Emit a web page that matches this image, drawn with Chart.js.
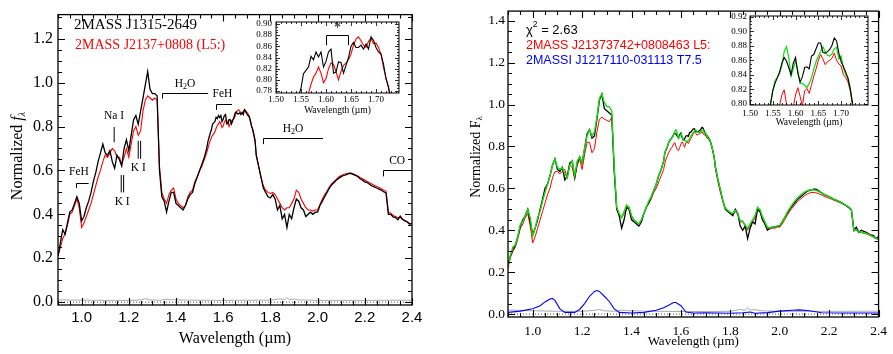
<!DOCTYPE html>
<html>
<head>
<meta charset="utf-8">
<script src="https://cdn.jsdelivr.net/npm/chart.js@4.4.1/dist/chart.umd.min.js"></script>
<style>
body { margin: 0; background: #fff; }
#wrap { position: relative; width: 893px; height: 354px; overflow: hidden; }
canvas { position: absolute; }
</style>
</head>
<body>
<div id="wrap">
<canvas id="leftMain" width="450" height="354" style="left:0;top:0"></canvas>
<canvas id="rightMain" width="443" height="354" style="left:450px;top:0"></canvas>
<canvas id="leftInset" width="170" height="108" style="left:240px;top:12px"></canvas>
<canvas id="rightInset" width="160" height="124" style="left:715px;top:6px"></canvas>
</div>
<script>
// wavelength grid (micron): 0.01 steps, 0.005 steps across the H-band peak
const wave = [
  0.90,0.91,0.92,0.93,0.94,0.95,0.96,0.97,0.98,0.99,
  1.00,1.01,1.02,1.03,1.04,1.05,1.06,1.07,1.08,1.09,
  1.10,1.11,1.12,1.13,1.14,1.15,1.16,1.17,1.18,1.19,
  1.20,1.21,1.22,1.23,1.24,1.25,1.26,1.27,1.28,1.29,
  1.30,1.31,1.32,1.33,1.34,1.35,1.36,1.37,1.38,1.39,
  1.40,1.41,1.42,1.43,1.44,1.45,1.46,1.47,1.48,1.49,
  1.50,1.51,1.52,1.53,
  1.535,1.540,1.545,1.550,1.555,1.560,1.565,1.570,1.575,1.580,
  1.585,1.590,1.595,1.600,1.605,1.610,1.615,1.620,1.625,1.630,
  1.635,1.640,1.645,1.650,1.655,1.660,1.665,1.670,1.675,1.680,
  1.685,1.690,1.695,1.700,1.705,1.710,1.715,1.720,1.725,1.730,1.735,
  1.74,1.75,1.76,1.77,1.78,1.79,1.80,1.81,1.82,1.83,
  1.84,1.85,1.86,1.87,1.88,1.89,1.90,1.91,1.92,1.93,
  1.94,1.95,1.96,1.97,1.98,1.99,2.00,2.01,2.02,2.03,
  2.04,2.05,2.06,2.07,2.08,2.09,2.10,2.11,2.12,2.13,
  2.14,2.15,2.16,2.17,2.18,2.19,2.20,2.21,2.22,2.23,
  2.24,2.25,2.26,2.27,2.28,2.29,2.30,2.31,2.32,2.33,
  2.34,2.35,2.36,2.37,2.38,2.39,2.40
];

// left panel: 2MASS J1315-2649 (black) vs 2MASS J2137+0808 (red)
const leftBlack = [
  .21,.27,.33,.31,.36,.41,.42,.45,.48,.45,
  .37,.39,.43,.46,.50,.55,.59,.64,.68,.72,
  .68,.67,.69,.64,.61,.67,.65,.62,.70,.74,
  .69,.76,.83,.85,.81,.87,.93,.99,1.05,.97,
  .95,.95,.94,.60,.48,.46,.41,.46,.50,.50,
  .45,.44,.43,.42,.44,.47,.49,.50,.54,.57,
  .60,.63,.66,.70,
  .73,.75,.77,.785,.811,.817,.823,.842,.836,.850,
  .841,.850,.823,.833,.850,.855,.812,.814,.832,.831,
  .812,.826,.840,.860,.867,.858,.858,.862,.855,.864,
  .855,.877,.871,.858,.850,.846,.828,.802,.786,.760,.735,
  .67,.62,.57,.52,.50,.48,.475,.49,.47,.42,
  .44,.38,.40,.34,.40,.38,.43,.47,.46,.43,
  .42,.39,.40,.41,.40,.41,.41,.44,.46,.48,
  .50,.52,.535,.545,.556,.565,.572,.577,.58,.585,
  .587,.582,.578,.572,.562,.556,.548,.545,.537,.53,
  .525,.52,.515,.51,.503,.497,.40,.40,.388,.385,
  .375,.392,.378,.37,.365,.355,.36
];
const leftRed = [
  .21,.25,.29,.31,.35,.40,.41,.44,.47,.43,
  .34,.36,.39,.42,.45,.49,.53,.57,.60,.64,
  .67,.66,.68,.70,.69,.66,.66,.63,.66,.70,
  .66,.72,.78,.80,.76,.78,.87,.92,.94,.93,
  .92,.93,.92,.62,.50,.47,.45,.49,.51,.52,
  .47,.45,.44,.43,.44,.48,.50,.51,.55,.57,
  .60,.62,.65,.68,
  .70,.72,.735,.75,.76,.768,.776,.792,.805,.812,
  .823,.812,.795,.802,.820,.830,.828,.815,.800,.815,
  .826,.830,.836,.846,.862,.873,.877,.870,.862,.858,
  .869,.874,.865,.866,.858,.846,.822,.803,.788,.765,.74,
  .67,.62,.57,.53,.51,.50,.495,.50,.49,.47,
  .45,.43,.42,.43,.43,.45,.47,.51,.50,.47,
  .45,.43,.42,.42,.415,.42,.42,.445,.47,.49,
  .505,.525,.54,.55,.56,.57,.577,.582,.585,.587,
  .588,.585,.58,.575,.568,.562,.556,.55,.544,.538,
  .532,.527,.522,.517,.51,.505,.41,.405,.395,.39,
  .385,.385,.378,.372,.366,.36,.355
];

// right panel: observed (black), L5 template (red), composite (green)
const rightBlack = [
  .23,.28,.31,.33,.37,.42,.45,.47,.50,.44,
  .38,.41,.45,.50,.55,.60,.62,.66,.71,.74,
  .69,.68,.70,.64,.66,.72,.73,.65,.72,.75,
  .72,.79,.86,.88,.84,.85,.93,1.02,1.05,.98,
  .97,.96,.95,.68,.50,.47,.41,.45,.51,.50,
  .45,.44,.43,.42,.44,.48,.51,.53,.56,.59,
  .62,.66,.69,.73,
  .77,.785,.799,.818,.828,.836,.844,.856,.864,.859,
  .850,.840,.856,.864,.842,.830,.837,.850,.851,.848,
  .866,.868,.876,.884,.884,.871,.870,.872,.875,.881,
  .891,.887,.870,.858,.851,.844,.835,.820,.80,.775,.745,
  .70,.64,.59,.54,.50,.49,.48,.47,.50,.48,
  .42,.40,.42,.36,.41,.44,.43,.50,.49,.45,
  .43,.40,.41,.415,.415,.42,.42,.44,.46,.48,
  .50,.515,.53,.545,.555,.565,.575,.585,.59,.593,
  .597,.594,.586,.578,.57,.565,.56,.554,.548,.543,
  .538,.532,.524,.517,.508,.498,.40,.415,.39,.40,
  .395,.39,.383,.378,.375,.36,.37
];
const rightRed = [
  .22,.27,.30,.32,.36,.41,.43,.46,.48,.42,
  .34,.37,.41,.45,.49,.53,.57,.60,.65,.68,
  .68,.67,.68,.69,.65,.71,.70,.645,.71,.74,
  .69,.76,.82,.82,.77,.79,.87,.93,.94,.93,
  .925,.918,.94,.69,.51,.47,.46,.48,.52,.51,
  .47,.44,.44,.43,.45,.48,.51,.53,.55,.58,
  .60,.63,.66,.69,
  .72,.74,.755,.77,.78,.79,.798,.812,.819,.800,
  .785,.780,.795,.812,.822,.810,.796,.818,.821,.814,
  .826,.838,.848,.860,.868,.862,.854,.858,.860,.863,
  .870,.860,.855,.852,.840,.836,.830,.818,.798,.772,.742,
  .69,.63,.58,.535,.50,.49,.48,.475,.49,.475,
  .44,.44,.42,.40,.42,.44,.46,.495,.49,.455,
  .43,.41,.405,.41,.41,.415,.415,.43,.45,.47,
  .49,.505,.52,.535,.545,.555,.565,.572,.578,.58,
  .58,.578,.573,.568,.562,.557,.553,.548,.543,.538,
  .533,.528,.522,.515,.508,.498,.40,.40,.39,.39,
  .385,.383,.378,.372,.366,.36,.355
];
const rightGreen = [
  .23,.28,.32,.33,.37,.43,.44,.47,.50,.46,
  .37,.41,.46,.49,.54,.58,.62,.66,.71,.74,
  .70,.69,.70,.67,.65,.71,.73,.66,.73,.75,
  .72,.79,.85,.88,.85,.87,.94,1.03,1.05,1.01,
  .99,.99,.97,.70,.51,.48,.46,.49,.52,.51,
  .47,.45,.44,.43,.45,.48,.51,.54,.56,.59,
  .62,.66,.69,.73,
  .77,.785,.799,.818,.832,.836,.842,.853,.872,.879,
  .864,.838,.848,.859,.846,.828,.828,.825,.822,.828,
  .836,.848,.858,.866,.872,.879,.872,.867,.866,.869,
  .876,.878,.862,.866,.850,.840,.836,.822,.80,.775,.745,
  .70,.64,.59,.54,.505,.495,.485,.48,.495,.48,
  .445,.445,.425,.41,.43,.45,.47,.51,.50,.465,
  .44,.415,.41,.415,.415,.42,.422,.44,.46,.485,
  .505,.522,.538,.553,.563,.573,.582,.588,.592,.593,
  .592,.589,.583,.577,.571,.565,.56,.554,.548,.543,
  .537,.531,.525,.518,.51,.50,.40,.402,.392,.392,
  .387,.385,.38,.374,.368,.362,.357
];

// T7.5 template contribution (blue)
const blueWave = [0.90,0.95,1.00,1.03,1.05,1.07,1.08,1.09,1.11,1.13,1.17,1.19,1.21,1.23,1.25,1.26,1.27,1.29,1.31,1.33,1.35,1.40,1.45,1.50,1.53,1.55,1.57,1.58,1.60,1.62,1.65,1.70,1.80,1.85,1.88,1.90,1.95,2.00,2.05,2.08,2.12,2.17,2.25,2.40];
const rightBlue = [.008,.014,.025,.040,.058,.072,.075,.065,.025,.008,.008,.022,.050,.085,.108,.112,.108,.085,.060,.025,.008,.005,.008,.018,.030,.042,.055,.055,.040,.010,.005,.006,.004,.006,.010,.004,.007,.014,.018,.020,.016,.006,.005,.005];

// noise spectra (grey) and zero level (dotted)
const noiseWave = [0.90,1.00,1.10,1.20,1.25,1.27,1.29,1.33,1.36,1.38,1.45,1.60,1.80,1.84,1.86,1.87,1.88,1.90,1.92,2.00,2.20,2.40];
const leftNoise = [.010,.009,.008,.008,.010,.016,.010,.008,.013,.011,.009,.008,.009,.015,.012,.020,.012,.014,.010,.008,.008,.009];
const rightNoise = [.019,.016,.013,.013,.018,.022,.016,.013,.019,.016,.014,.012,.013,.022,.018,.030,.019,.021,.016,.013,.013,.014];
const zeroWave = [0.9, 2.4];
const zeroLine = [0, 0];

// tick labels
const mainXTicks = [1.0,1.2,1.4,1.6,1.8,2.0,2.2,2.4];
const leftYTicks = [0.0,0.2,0.4,0.6,0.8,1.0,1.2];
const rightYTicks = [0.0,0.2,0.4,0.6,0.8,1.0,1.2,1.4];
const insetXTicks = [1.50,1.55,1.60,1.65,1.70];
const leftInsetYTicks = [0.78,0.80,0.82,0.84,0.86,0.88,0.90];
const rightInsetYTicks = [0.80,0.82,0.84,0.86,0.88,0.90,0.92];

// feature marks on the left panel (data coordinates)
const leftFeatures = [
  {label: ['FeH'], tx: 0.989, ty: 0.595, bx: [0.978, 1.03], by: 0.545, tick: 0.52},
  {label: ['Na I'], tx: 1.137, ty: 0.848, line: 1.138, ly: [0.798, 0.728]},
  {label: ['K I'], tx: 1.240, ty: 0.609, line: 1.245, dbl: true, ly: [0.735, 0.653]},
  {label: ['K I'], tx: 1.172, ty: 0.458, line: 1.173, dbl: true, ly: [0.579, 0.50]},
  {label: ['H', '2', 'O'], tx: 1.438, ty: 0.995, bx: [1.339, 1.536], by: 0.955, tick: 0.928},
  {label: ['FeH'], tx: 1.597, ty: 0.947, bx: [1.569, 1.637], by: 0.902, tick: 0.876},
  {label: ['H', '2', 'O'], tx: 1.896, ty: 0.79, bx: [1.769, 2.023], by: 0.75, tick: 0.72},
  {label: ['CO'], tx: 2.337, ty: 0.645, bx: [2.277, 2.40], by: 0.60, tick: 0.573}
];

const SERIF = '"Liberation Serif", "Times New Roman", serif';
const SANS = '"Liberation Sans", Arial, sans-serif';

function pts(xs, ys) {
  return xs.map((x, i) => ({x: x, y: ys[i]}));
}

function line(xs, ys, color, width, dash) {
  return {
    data: pts(xs, ys), borderColor: color, borderWidth: width,
    borderDash: dash || [], pointRadius: 0, fill: false, tension: 0
  };
}

// text made of pieces (for sub/superscripts)
function richText(ctx, parts, x, y, align) {
  let w = 0;
  parts.forEach(p => { ctx.font = p.font; p.w = ctx.measureText(p.t).width; w += p.w; });
  let cx = align === 'center' ? x - w / 2 : x;
  ctx.textAlign = 'left';
  ctx.textBaseline = 'middle';
  parts.forEach(p => {
    ctx.font = p.font;
    if (p.color) ctx.fillStyle = p.color;
    ctx.fillText(p.t, cx, y + (p.dy || 0));
    cx += p.w;
  });
}

function framePlugin(o) {
  return {
    id: 'frame',
    beforeDatasetsDraw(chart) {
      if (!o.fillArea) return;
      const a = chart.chartArea, ctx = chart.ctx;
      ctx.save();
      ctx.fillStyle = '#fff';
      ctx.fillRect(a.left, a.top, a.right - a.left, a.bottom - a.top);
      ctx.restore();
    },
    afterDatasetsDraw(chart) {
      const ctx = chart.ctx, a = chart.chartArea;
      const xs = chart.scales.x, ys = chart.scales.y;
      ctx.save();
      ctx.strokeStyle = '#000';
      ctx.lineWidth = o.lw;
      ctx.strokeRect(a.left, a.top, a.right - a.left, a.bottom - a.top);
      ctx.lineWidth = o.tw;
      ctx.beginPath();
      // x ticks, top and bottom
      for (let k = Math.ceil(xs.min / o.xMinor - 1e-6); k * o.xMinor <= xs.max + 1e-6; k++) {
        const v = k * o.xMinor;
        const major = o.xTicks.some(t => Math.abs(t - v) < 1e-6);
        const len = major ? o.major : o.minor;
        const px = Math.round(xs.getPixelForValue(v)) + 0.5;
        ctx.moveTo(px, a.bottom); ctx.lineTo(px, a.bottom - len);
        ctx.moveTo(px, a.top); ctx.lineTo(px, a.top + len);
      }
      // y ticks, left and right
      for (let k = Math.ceil(ys.min / o.yMinor - 1e-6); k * o.yMinor <= ys.max + 1e-6; k++) {
        const v = k * o.yMinor;
        const major = o.yTicks.some(t => Math.abs(t - v) < 1e-6);
        const len = major ? o.major : o.minor;
        const py = Math.round(ys.getPixelForValue(v)) + 0.5;
        ctx.moveTo(a.left, py); ctx.lineTo(a.left + len, py);
        ctx.moveTo(a.right, py); ctx.lineTo(a.right - len, py);
      }
      ctx.stroke();
      ctx.fillStyle = '#000';
      if (o.decor) o.decor(ctx, chart, xs, ys, a);
      ctx.restore();
    }
  };
}

function makeChart(id, datasets, o) {
  return new Chart(document.getElementById(id), {
    type: 'line',
    data: {datasets: datasets},
    options: {
      responsive: false,
      animation: false,
      devicePixelRatio: 1,
      layout: {padding: o.pad},
      plugins: {legend: {display: false}, tooltip: {enabled: false}},
      elements: {point: {radius: 0}, line: {tension: 0}},
      scales: {
        x: {
          type: 'linear', min: o.xMin, max: o.xMax,
          afterFit: s => { s.height = o.xH; },
          afterBuildTicks: s => { s.ticks = o.xTicks.map(v => ({value: v})); },
          grid: {display: false, drawTicks: false},
          border: {display: false},
          ticks: {autoSkip: false, maxRotation: 0, padding: o.xPad, color: '#000',
                  font: o.xFont, callback: v => Number(v).toFixed(o.xDec)}
        },
        y: {
          type: 'linear', min: o.yMin, max: o.yMax,
          afterFit: s => { s.width = o.yW; },
          afterBuildTicks: s => { s.ticks = o.yTicks.map(v => ({value: v})); },
          grid: {display: false, drawTicks: false},
          border: {display: false},
          ticks: {autoSkip: false, padding: o.yPad, color: '#000',
                  font: o.yFont, callback: v => Number(v).toFixed(o.yDec)}
        }
      }
    },
    plugins: [framePlugin(o)]
  });
}

// ---------- left panel ----------
makeChart('leftMain', [
  line(wave, leftBlack, '#000', 1.3),
  line(wave, leftRed, '#ff0000', 1.1),
  line(noiseWave, leftNoise, '#a0a0a0', 0.9),
  line(zeroWave, zeroLine, '#555', 1, [1, 2])
], {
  pad: {left: 0, top: 7, right: 38, bottom: 0},
  xMin: 0.9, xMax: 2.4, yMin: -0.013, yMax: 1.31,
  xH: 49, yW: 58, xPad: 4, yPad: 5, xDec: 1, yDec: 1,
  xTicks: mainXTicks, yTicks: leftYTicks, xMinor: 0.05, yMinor: 0.05,
  xFont: {family: SANS, size: 15}, yFont: {family: SERIF, size: 16},
  lw: 1.3, tw: 1.1, major: 7, minor: 4,
  decor(ctx, chart, xs, ys, a) {
    ctx.textBaseline = 'middle';
    ctx.textAlign = 'left';
    ctx.font = '15px ' + SERIF;
    ctx.fillStyle = '#000';
    ctx.fillText('2MASS J1315-2649', 74, 25);
    ctx.font = '14px ' + SERIF;
    ctx.fillStyle = '#ff0000';
    ctx.fillText('2MASS J2137+0808 (L5:)', 75, 45);

    ctx.fillStyle = '#000';
    ctx.strokeStyle = '#000';
    ctx.lineWidth = 1;
    leftFeatures.forEach(f => {
      const tx = xs.getPixelForValue(f.tx), ty = ys.getPixelForValue(f.ty);
      const fnt = '11.5px ' + SERIF;
      if (f.label.length === 3) {
        richText(ctx, [{t: f.label[0], font: fnt}, {t: f.label[1], font: '8px ' + SERIF, dy: 3},
                       {t: f.label[2], font: fnt}], tx, ty, 'center');
      } else {
        richText(ctx, [{t: f.label[0], font: fnt}], tx, ty, 'center');
      }
      ctx.beginPath();
      if (f.bx) {
        const x0 = Math.round(xs.getPixelForValue(f.bx[0])) + 0.5;
        const x1 = xs.getPixelForValue(f.bx[1]);
        const by = Math.round(ys.getPixelForValue(f.by)) + 0.5;
        ctx.moveTo(x0, ys.getPixelForValue(f.tick));
        ctx.lineTo(x0, by);
        ctx.lineTo(x1, by);
      }
      if (f.line) {
        const lx = xs.getPixelForValue(f.line);
        const y0 = ys.getPixelForValue(f.ly[0]), y1 = ys.getPixelForValue(f.ly[1]);
        if (f.dbl) {
          ctx.moveTo(lx - 1.2, y0); ctx.lineTo(lx - 1.2, y1);
          ctx.moveTo(lx + 1.2, y0); ctx.lineTo(lx + 1.2, y1);
        } else {
          ctx.moveTo(lx, y0); ctx.lineTo(lx, y1);
        }
      }
      ctx.stroke();
    });

    // axis titles
    ctx.fillStyle = '#000';
    richText(ctx, [{t: 'Wavelength (\u00b5m)', font: '16px ' + SERIF}], (a.left + a.right) / 2, 339, 'center');
    ctx.save();
    ctx.translate(18, 156);
    ctx.rotate(-Math.PI / 2);
    richText(ctx, [{t: 'Normalized ', font: '16px ' + SERIF},
                   {t: 'f', font: 'italic 16px ' + SERIF},
                   {t: '\u03bb', font: 'italic 10px ' + SERIF, dy: 4}], 0, 0, 'center');
    ctx.restore();
  }
});

makeChart('leftInset', [
  line(wave, leftBlack, '#000', 1.1),
  line(wave, leftRed, '#ff0000', 1.1)
], {
  pad: {left: 0, top: 10, right: 11, bottom: 0},
  xMin: 1.50, xMax: 1.746, yMin: 0.7765, yMax: 0.9035,
  xH: 27, yW: 36, xPad: 1, yPad: 4, xDec: 2, yDec: 2,
  xTicks: insetXTicks, yTicks: leftInsetYTicks, xMinor: 0.01, yMinor: 0.005,
  xFont: {family: SERIF, size: 9}, yFont: {family: SERIF, size: 9},
  lw: 1, tw: 0.8, major: 4, minor: 2, fillArea: true,
  decor(ctx, chart, xs, ys, a) {
    ctx.strokeStyle = '#000';
    ctx.lineWidth = 1;
    const x0 = Math.round(xs.getPixelForValue(1.60)) + 0.5;
    const x1 = Math.round(xs.getPixelForValue(1.644)) + 0.5;
    const by = Math.round(ys.getPixelForValue(0.881)) + 0.5;
    const bt = ys.getPixelForValue(0.862);
    ctx.beginPath();
    ctx.moveTo(x0, bt); ctx.lineTo(x0, by); ctx.lineTo(x1, by); ctx.lineTo(x1, bt);
    ctx.stroke();
    richText(ctx, [{t: '*', font: '14px ' + SERIF}], (x0 + x1) / 2, ys.getPixelForValue(0.893), 'center');
    richText(ctx, [{t: 'Wavelength (\u00b5m)', font: '9.5px ' + SERIF}], (a.left + a.right) / 2, 98, 'center');
  }
});

// ---------- right panel ----------
makeChart('rightMain', [
  line(wave, rightGreen, '#11dd11', 1.4),
  line(wave, rightBlack, '#000', 1.3),
  line(wave, rightRed, '#ff0000', 1.0),
  line(blueWave, rightBlue, '#0000ff', 1.1),
  line(noiseWave, rightNoise, '#a0a0a0', 0.9),
  line(zeroWave, zeroLine, '#555', 1, [1, 2])
], {
  pad: {left: 0, top: 3, right: 8, bottom: 0},
  xMin: 0.9, xMax: 2.4, yMin: -0.014, yMax: 1.446,
  xH: 37, yW: 58, xPad: 6, yPad: 3, xDec: 1, yDec: 1,
  xTicks: mainXTicks, yTicks: rightYTicks, xMinor: 0.05, yMinor: 0.05,
  xFont: {family: SERIF, size: 13.5}, yFont: {family: SERIF, size: 13.5},
  lw: 1.3, tw: 1.1, major: 7, minor: 4,
  decor(ctx, chart, xs, ys, a) {
    richText(ctx, [{t: '\u03c7', font: '13px ' + SANS, color: '#000'},
                   {t: '2', font: '8.5px ' + SANS, dy: -5},
                   {t: ' = 2.63', font: '13px ' + SANS}], 76, 30, 'left');
    richText(ctx, [{t: '2MASS J21373742+0808463 L5:', font: '12.5px ' + SANS, color: '#ff0000'}], 76, 46, 'left');
    richText(ctx, [{t: '2MASSI J1217110-031113 T7.5', font: '12.5px ' + SANS, color: '#0000ff'}], 76, 61, 'left');
    ctx.fillStyle = '#000';
    richText(ctx, [{t: 'Wavelength (\u00b5m)', font: '13px ' + SERIF, color: '#000'}], (a.left + a.right) / 2, 342, 'center');
    ctx.save();
    ctx.translate(26, 157);
    ctx.rotate(-Math.PI / 2);
    richText(ctx, [{t: 'Normalized F', font: '14px ' + SERIF},
                   {t: '\u03bb', font: '9px ' + SERIF, dy: 4}], 0, 0, 'center');
    ctx.restore();
  }
});

makeChart('rightInset', [
  line(wave, rightBlack, '#000', 1.1),
  line(wave, rightGreen, '#11dd11', 1.2),
  line(wave, rightRed, '#ff0000', 1.0)
], {
  pad: {left: 0, top: 10, right: 7, bottom: 0},
  xMin: 1.50, xMax: 1.759, yMin: 0.798, yMax: 0.9215,
  xH: 25, yW: 35, xPad: 3, yPad: 3, xDec: 2, yDec: 2,
  xTicks: insetXTicks, yTicks: rightInsetYTicks, xMinor: 0.01, yMinor: 0.005,
  xFont: {family: SERIF, size: 9}, yFont: {family: SERIF, size: 9},
  lw: 1, tw: 0.8, major: 4, minor: 2, fillArea: true,
  decor(ctx, chart, xs, ys, a) {
    richText(ctx, [{t: 'Wavelength (\u00b5m)', font: '9.5px ' + SERIF}], (a.left + a.right) / 2, 116, 'center');
  }
});
</script>
</body>
</html>
